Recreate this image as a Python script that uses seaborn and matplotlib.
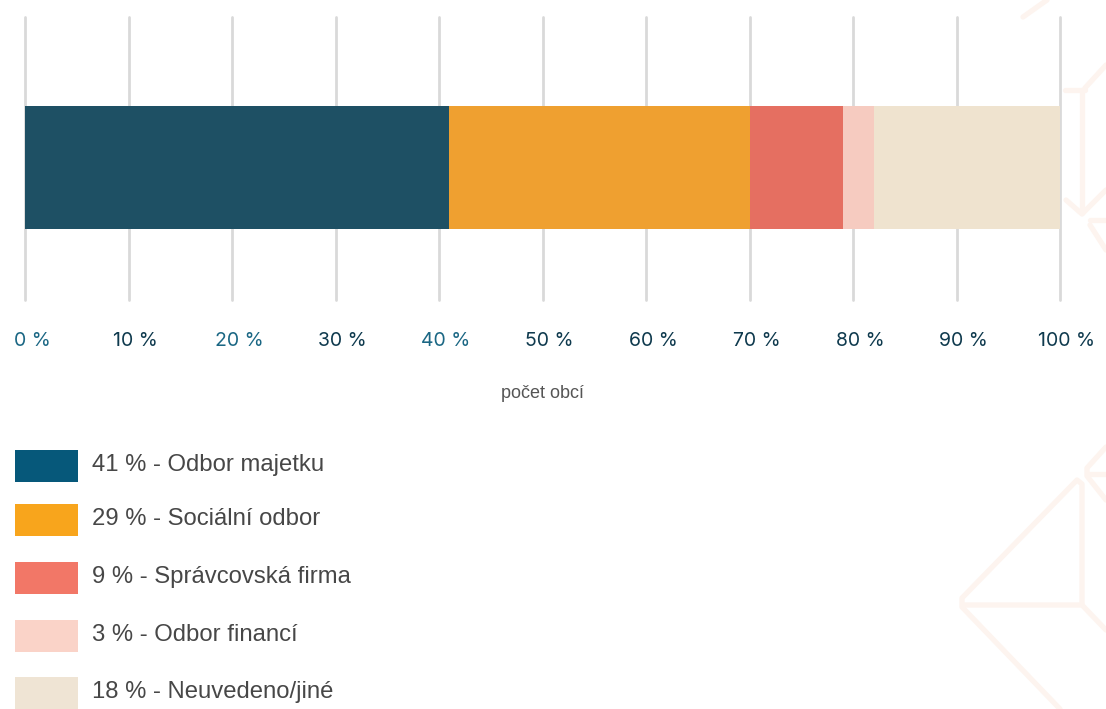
import matplotlib
matplotlib.use("Agg")
import matplotlib.pyplot as plt
import matplotlib.transforms as mtransforms
from matplotlib.lines import Line2D
from matplotlib.patches import Rectangle
import numpy as np
import pandas as pd
import seaborn as sns

# Shares of municipalities by the department responsible
categories = ["Odbor majetku", "Sociální odbor", "Správcovská firma",
              "Odbor financí", "Neuvedeno/jiné"]
shares = [41, 29, 9, 3, 18]
bar_colors = ["#1e5064", "#efa030", "#e56f61", "#f6cbc0", "#efe3cf"]
legend_colors = ["#06587a", "#f8a51c", "#f27767", "#fad3c8", "#efe4d4"]
tick_values = list(range(0, 101, 10))
tick_labels = [f"{v} %" for v in tick_values]
tick_colors = ["#1b6784" if v in (0, 20, 40) else "#0f3a4e" for v in tick_values]
axis_title = "počet obcí"

sns.set_theme(style="white")
plt.rcParams["font.family"] = ["Liberation Sans", "DejaVu Sans"]

W, H = 1106, 709
fig = plt.figure(figsize=(W / 100, H / 100), dpi=100)
fig.patch.set_facecolor("white")


def fx(px):
    return px / W


def fy(py):
    return 1 - py / H


# Faint decorative outline shapes in the right margin
deco = "#fdf4ef"
deco_paths = [
    [(1023, 17), (1047, 0)],
    [(1065, 90), (1085, 90)],
    [(1082, 90), (1082, 213)],
    [(1085, 88), (1106, 65)],
    [(1066, 200), (1082, 214), (1106, 190)],
    [(1090, 220), (1106, 220)],
    [(1090, 225), (1106, 250)],
    [(1106, 447), (1087, 468), (1087, 476), (1106, 500)],
    [(1088, 474), (1106, 474)],
    [(1082, 605), (1082, 484), (1077, 480), (962, 598), (962, 607), (1060, 709)],
    [(963, 605), (1082, 605), (1106, 630)],
]
for path in deco_paths:
    xs, ys = zip(*path)
    fig.add_artist(Line2D([fx(x) for x in xs], [fy(y) for y in ys],
                          transform=fig.transFigure, color=deco, lw=3.8,
                          solid_capstyle="round", solid_joinstyle="round",
                          zorder=0))

ax = fig.add_axes([fx(25), fy(300), fx(1060) - fx(25), (300 - 17) / H])
ax.set_facecolor("none")

# Vertical gridlines at every 10 %
for v in tick_values:
    ax.axvline(v, color="#d9d9d9", lw=2, zorder=0, clip_on=False)

# Stacked bar: layer cumulative totals, widest first
cum = np.cumsum(shares)
for total, color in reversed(list(zip(cum, bar_colors))):
    df = pd.DataFrame({"group": ["all"], "value": [total]})
    sns.barplot(data=df, x="value", y="group", orient="h", color=color,
                saturation=1, width=0.8, ax=ax, zorder=3, linewidth=0)

ax.set_xlim(0, 100)
ax.set_ylim(0.862, -0.979)
ax.set_yticks([])
ax.set_xticks([])
ax.set_ylabel("")
ax.grid(False)
for s in ax.spines.values():
    s.set_visible(False)

# Percentage labels below the gridlines, nudged slightly to the right
base = mtransforms.blended_transform_factory(ax.transData, ax.transAxes)
label_tr = mtransforms.offset_copy(base, fig=fig, x=7, y=-41, units="dots")
for v, txt, c in zip(tick_values, tick_labels, tick_colors):
    ax.text(v, 0, txt, transform=label_tr, ha="center", va="center",
            fontsize=14, color=c, family=["Inter", "DejaVu Sans"],
            clip_on=False)

ax.set_xlabel(axis_title, fontsize=13, color="#555555", labelpad=61.5)

# Legend: colour swatch followed by share and label
row_centers = [466, 520, 578, 636, 693]
for yc, share, name, color in zip(row_centers, shares, categories, legend_colors):
    fig.add_artist(Rectangle((fx(15), fy(yc + 16)), fx(63), 32 / H,
                             transform=fig.transFigure, facecolor=color,
                             edgecolor="none"))
    fig.text(fx(92), fy(yc - 1), f"{share} % - {name}", fontsize=17.2,
             color="#474747", va="center", ha="left")

fig.savefig("out.png", dpi=100, facecolor="white")
